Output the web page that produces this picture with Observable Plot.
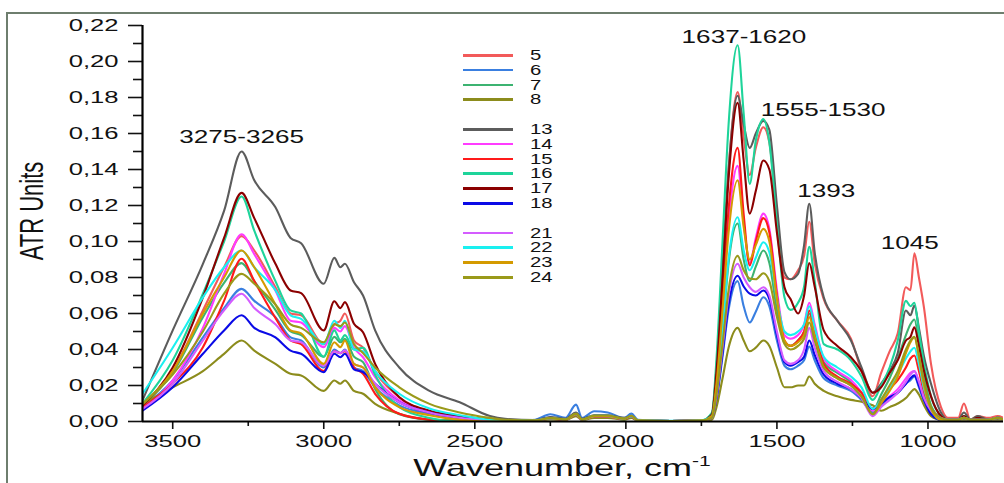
<!DOCTYPE html>
<html>
<head>
<meta charset="utf-8">
<script src="https://cdn.jsdelivr.net/npm/d3@7"></script>
<script src="https://cdn.jsdelivr.net/npm/@observablehq/plot@0.6"></script>
<style>
  html, body { margin: 0; padding: 0; background: #fff; }
  #wrap { position: relative; width: 1004px; height: 483px; overflow: hidden; font-family: "Liberation Sans", Arial, sans-serif; color: #111; }
  #frame { position: absolute; left: 6px; top: 12px; width: 1010px; height: 490px; border-left: 2px solid #6e7e6e; border-top: 2px solid #6e7e6e; }
  #chart { position: absolute; left: 0; top: 0; }
  .ttl { position: absolute; white-space: nowrap; line-height: 1; }
  .leg-row { position: absolute; left: 463px; height: 0; }
  .leg-line { position: absolute; left: 0; top: -1px; width: 50px; height: 2.5px; }
  .leg-lab { position: absolute; left: 67px; top: -8px; font-size: 14px; line-height: 16px; transform: scaleX(1.45); transform-origin: 0 50%; white-space: nowrap; }
</style>
</head>
<body>
<div id="wrap">
  <div id="frame"></div>
  <div id="chart"></div>
  <div id="legend"></div>
  <div class="ttl" style="left:32px; top:211px; transform: scaleX(1.5) rotate(-90deg); transform-origin: 0 0;">
    <div style="transform: translate(-50%,-50%); font-size:22px;">ATR Units</div>
  </div>
  <div class="ttl" style="left:562px; top:468px; font-size:24px; transform: translate(-50%,-50%) scaleX(1.5);">Wavenumber, cm<span style="font-size:14px; position:relative; top:-10px;">-1</span></div>
</div>
<script>
// ---- data ----
const wn = [3600,3500,3400,3330,3272,3230,3160,3110,3075,3000,2965,2945,2930,2900,2870,2830,2750,2650,2550,2450,
  2400,2300,2250,2200,2165,2145,2105,2060,2005,1982,1960,1850,1750,
  1715,1700,1680,1660,1630,1610,1590,1570,1545,1525,
  1500,1475,1455,1430,1410,1393,1375,1345,1300,1255,
  1220,1183,1155,1127,1100,1073,1058,1045,1030,1013,
  990,957,934,900,881,860,835,800,769,750];

const s5 = [0.008,0.028,0.0617,0.0857,0.103,0.095,0.0746,0.060,0.059,0.043,0.054,0.056,0.060,0.045,0.041,0.028,0.0135,0.005,0.002,0.001,
  0,0.0005,0.002,0.001,0.0045,0.001,0.003,0.003,0.0015,0.003,0.0005,0.0003,0.0005,
  0.004,0.03,0.085,0.14,0.183,0.158,0.137,0.152,0.1635,0.155,
  0.115,0.08,0.079,0.084,0.092,0.111,0.088,0.068,0.056,0.046,
  0.028,0.014,0.027,0.039,0.049,0.0746,0.073,0.0935,0.08,0.063,
  0.032,0.008,0.002,0.002,0.010,0.001,0.003,0.002,0.003,0.002];
const s6 = [0.008,0.0228,0.0467,0.063,0.0737,0.067,0.058,0.0467,0.045,0.030,0.040,0.038,0.040,0.030,0.028,0.019,0.009,0.0043,0.002,0.001,
  0,0.001,0.004,0.002,0.0094,0.002,0.0057,0.005,0.002,0.0044,0.001,0.0003,0.0005,
  0.002,0.012,0.036,0.062,0.078,0.064,0.055,0.061,0.069,0.064,
  0.045,0.031,0.029,0.031,0.034,0.0417,0.034,0.024,0.02,0.017,
  0.012,0.005,0.009,0.013,0.016,0.021,0.023,0.025,0.019,0.011,
  0.004,0.001,0.001,0.001,0.002,0.001,0.001,0.001,0.002,0.001];
const s7 = [0.009,0.027,0.058,0.077,0.088,0.078,0.062,0.050,0.048,0.036,0.047,0.044,0.046,0.036,0.033,0.018,0.004,0.001,0.0005,0,
  0,0.0004,0.0015,0.001,0.0035,0.001,0.0025,0.0025,0.001,0.0025,0.0005,0.0003,0.0005,
  0.003,0.018,0.05,0.088,0.11,0.09,0.078,0.086,0.095,0.088,
  0.062,0.044,0.042,0.045,0.05,0.06,0.049,0.033,0.027,0.022,
  0.016,0.006,0.015,0.024,0.035,0.048,0.054,0.0567,0.044,0.026,
  0.009,0.002,0.001,0.001,0.002,0.001,0.001,0.001,0.002,0.001];
const s8 = [0.0098,0.019,0.028,0.0376,0.045,0.0394,0.032,0.0265,0.0256,0.017,0.0228,0.021,0.0228,0.017,0.0154,0.0098,0.0043,0.001,0.0005,0,
  0,0.0004,0.0012,0.0008,0.003,0.0008,0.002,0.002,0.001,0.002,0.0004,0.0002,0.0004,
  0.001,0.008,0.024,0.041,0.052,0.045,0.039,0.041,0.045,0.042,
  0.03,0.019,0.019,0.02,0.02,0.025,0.021,0.017,0.014,0.012,
  0.011,0.009,0.006,0.008,0.01,0.013,0.016,0.018,0.015,0.009,
  0.003,0.001,0.001,0.001,0.001,0.001,0.001,0.001,0.001,0.001];
const s13 = [0.0117,0.0506,0.0876,0.117,0.150,0.134,0.119,0.102,0.099,0.0765,0.0909,0.0857,0.0876,0.0774,0.070,0.0506,0.030,0.017,0.0107,0.003,
  0.0015,0.0008,0.0025,0.0015,0.005,0.0015,0.0035,0.0035,0.002,0.003,0.0005,0.0003,0.0005,
  0.004,0.03,0.085,0.14,0.181,0.165,0.152,0.16,0.167,0.162,
  0.12,0.083,0.079,0.082,0.098,0.121,0.094,0.069,0.056,0.045,
  0.03,0.016,0.021,0.028,0.038,0.0617,0.059,0.0644,0.052,0.036,
  0.021,0.005,0.001,0.001,0.005,0.001,0.003,0.001,0.002,0.001];
const s14 = [0.007,0.0228,0.052,0.082,0.104,0.093,0.0728,0.056,0.055,0.0413,0.052,0.050,0.053,0.041,0.0357,0.0246,0.0117,0.005,0.002,0.0005,
  0,0.0005,0.0018,0.001,0.004,0.001,0.003,0.0028,0.0015,0.0028,0.0005,0.0003,0.0005,
  0.003,0.022,0.065,0.11,0.142,0.11,0.088,0.102,0.1155,0.107,
  0.073,0.048,0.046,0.048,0.054,0.066,0.054,0.035,0.028,0.023,
  0.016,0.006,0.01,0.014,0.018,0.024,0.027,0.028,0.022,0.014,
  0.007,0.002,0.001,0.001,0.002,0.001,0.001,0.001,0.002,0.001];
const s15 = [0.008,0.021,0.0413,0.067,0.0904,0.078,0.0576,0.045,0.043,0.028,0.039,0.038,0.039,0.030,0.0265,0.0154,0.0043,0.001,0,0,
  0,0.0004,0.0016,0.001,0.0038,0.001,0.0028,0.0028,0.0014,0.0027,0.0005,0.0003,0.0005,
  0.003,0.024,0.07,0.118,0.152,0.115,0.0867,0.1,0.113,0.105,
  0.07,0.045,0.042,0.045,0.05,0.0617,0.05,0.032,0.025,0.021,
  0.016,0.007,0.012,0.018,0.023,0.03,0.035,0.0367,0.028,0.016,
  0.006,0.001,0.001,0.001,0.002,0.001,0.001,0.001,0.002,0.001];
const s16 = [0.010,0.034,0.071,0.100,0.125,0.106,0.078,0.0617,0.060,0.036,0.0506,0.045,0.048,0.040,0.041,0.026,0.008,0.002,0,0,
  0,0.0004,0.0017,0.001,0.0042,0.001,0.003,0.003,0.0015,0.003,0.0005,0.0003,0.0006,
  0.005,0.035,0.1,0.165,0.209,0.171,0.132,0.156,0.168,0.155,
  0.11,0.069,0.062,0.066,0.075,0.097,0.078,0.043,0.04,0.034,
  0.025,0.012,0.02,0.03,0.045,0.067,0.064,0.066,0.05,0.032,
  0.014,0.003,0.001,0.001,0.003,0.001,0.002,0.001,0.002,0.001];
const s17 = [0.009,0.030,0.069,0.102,0.127,0.113,0.0876,0.0728,0.0713,0.0506,0.0668,0.063,0.0663,0.0543,0.0496,0.032,0.0135,0.006,0.003,0.001,
  0,0.0005,0.0018,0.001,0.004,0.0011,0.003,0.003,0.0016,0.0029,0.0005,0.0003,0.0005,
  0.004,0.028,0.08,0.135,0.177,0.145,0.1155,0.128,0.145,0.14,
  0.105,0.0746,0.068,0.06,0.07,0.088,0.075,0.0506,0.042,0.0357,
  0.028,0.016,0.019,0.027,0.034,0.045,0.047,0.0524,0.042,0.028,
  0.014,0.003,0.001,0.001,0.003,0.001,0.002,0.001,0.002,0.001];
const s18 = [0.006,0.019,0.0376,0.0506,0.059,0.052,0.0467,0.0394,0.0376,0.0274,0.0376,0.0357,0.0376,0.029,0.0274,0.021,0.0107,0.005,0.002,0.0005,
  0,0.0005,0.002,0.0012,0.0045,0.0012,0.0032,0.0032,0.0016,0.003,0.0006,0.0003,0.0005,
  0.002,0.013,0.038,0.065,0.081,0.075,0.071,0.07,0.0728,0.068,
  0.048,0.033,0.031,0.033,0.036,0.045,0.037,0.026,0.021,0.018,
  0.013,0.007,0.01,0.0135,0.016,0.021,0.024,0.0256,0.02,0.012,
  0.004,0.001,0.001,0.001,0.002,0.001,0.001,0.001,0.002,0.001];
const s21 = [0.007,0.021,0.045,0.0617,0.071,0.063,0.054,0.045,0.044,0.031,0.039,0.038,0.0395,0.032,0.030,0.021,0.0107,0.005,0.002,0.0005,
  0,0.0005,0.0018,0.001,0.004,0.001,0.003,0.003,0.0015,0.003,0.0005,0.0003,0.0005,
  0.002,0.014,0.041,0.07,0.0876,0.08,0.0746,0.072,0.0746,0.07,
  0.05,0.034,0.032,0.034,0.04,0.052,0.041,0.028,0.022,0.018,
  0.013,0.003,0.008,0.012,0.016,0.022,0.026,0.028,0.022,0.013,
  0.006,0.002,0.001,0.001,0.002,0.001,0.001,0.001,0.002,0.001];
const s22 = [0.0154,0.041,0.069,0.0857,0.095,0.0857,0.073,0.059,0.057,0.043,0.056,0.052,0.056,0.040,0.039,0.028,0.0154,0.0072,0.0035,0.001,
  0.0005,0.0006,0.0019,0.0011,0.0042,0.0011,0.0031,0.0031,0.0015,0.003,0.0006,0.0004,0.0007,
  0.003,0.018,0.052,0.09,0.1135,0.095,0.084,0.091,0.0996,0.094,
  0.068,0.05,0.048,0.05,0.054,0.064,0.052,0.036,0.03,0.025,
  0.019,0.007,0.012,0.018,0.026,0.035,0.039,0.041,0.032,0.018,
  0.007,0.001,0.001,0.001,0.002,0.001,0.001,0.001,0.002,0.001];
const s23 = [0.0098,0.028,0.060,0.080,0.095,0.0857,0.065,0.0506,0.049,0.032,0.044,0.0413,0.045,0.032,0.030,0.019,0.008,0.0035,0.001,0,
  0,0.0005,0.0018,0.001,0.0042,0.001,0.003,0.003,0.0015,0.0031,0.0005,0.0003,0.0005,
  0.003,0.021,0.062,0.105,0.134,0.108,0.09,0.098,0.107,0.1,
  0.068,0.045,0.042,0.044,0.048,0.058,0.047,0.03,0.024,0.02,
  0.014,0.004,0.01,0.017,0.025,0.038,0.044,0.0468,0.036,0.02,
  0.007,0.001,0.001,0.001,0.002,0.001,0.001,0.001,0.002,0.001];
const s24 = [0.0098,0.026,0.050,0.071,0.082,0.0765,0.065,0.054,0.052,0.044,0.054,0.053,0.055,0.043,0.038,0.030,0.019,0.0098,0.005,0.002,
  0.001,0.0006,0.002,0.0012,0.0045,0.0012,0.0033,0.0033,0.0016,0.0032,0.0006,0.0003,0.0005,
  0.002,0.015,0.043,0.073,0.092,0.084,0.0794,0.079,0.0824,0.078,
  0.058,0.043,0.04,0.042,0.046,0.055,0.045,0.03,0.024,0.02,
  0.014,0.004,0.012,0.02,0.028,0.04,0.045,0.047,0.037,0.022,
  0.008,0.002,0.001,0.001,0.002,0.001,0.001,0.001,0.002,0.001];

const seriesNames = ["5","6","7","8","13","14","15","16","17","18","21","22","23","24"];
const seriesValues = [s5,s6,s7,s8,s13,s14,s15,s16,s17,s18,s21,s22,s23,s24];
const seriesColors = ["#f25a5a","#3a7fe0","#3cb371","#8c8c1c","#5c5c5c","#ff3cff","#ff1a1a","#1ed49a","#8b0000","#0a0ae6","#d45cff","#1af0f0","#d49a00","#9a9a1a"];
// legend groups (blank separators)
const legendGroups = [["5","6","7","8"],["13","14","15","16","17","18"],["21","22","23","24"]];

const yMajor = [0,0.02,0.04,0.06,0.08,0.10,0.12,0.14,0.16,0.18,0.20,0.22];
const yMinor = [0.01,0.03,0.05,0.07,0.09,0.11,0.13,0.15,0.17,0.19,0.21];
const xMajor = [3500,3000,2500,2000,1500,1000];
const xMinor = [3250,2750,2250,1750,1250];

const peakLabels = ["3275-3265","1637-1620","1555-1530","1393","1045"];
const peakX = [3272,1609,1347,1337,1060];
const peakY = [0.158,0.2133,0.1728,0.1278,0.0989];

// ---- build ----
const colorOf = Object.fromEntries(seriesNames.map((n,i)=>[n, seriesColors[i]]));
const lineMarks = seriesNames.map((n,i) => {
  const rows = wn.map((w,j)=>({w, v: seriesValues[i][j]}));
  return Plot.line(rows, {x:"w", y:"v", stroke: seriesColors[i], strokeWidth: 2.1, curve: "monotone-x", clip: true});
});
const peaks = peakLabels.map((t,i)=>({t, x: peakX[i], y: peakY[i]}));

const fmt = d => d.toFixed(2).replace(".", ",");

const svg = Plot.plot({
  width: 1004, height: 483,
  marginLeft: 142, marginRight: 1, marginTop: 25, marginBottom: 62,
  x: {domain: [3600, 750]},
  y: {domain: [0, 0.22]},
  style: {fontFamily: "'Liberation Sans', Arial, sans-serif", background: "transparent", color: "#111"},
  marks: [
    ...lineMarks,
    Plot.axisY(yMajor, {tickSize: 14, tickPadding: 10, tickFormat: fmt, fontSize: 16, label: null, strokeWidth: 1.6}),
    Plot.axisY(yMinor, {tickSize: 9, tickFormat: () => "", label: null, strokeWidth: 1.6}),
    Plot.axisX(xMajor, {tickSize: 8, tickPadding: 6, tickFormat: d => String(d), fontSize: 16, label: null, strokeWidth: 1.6}),
    Plot.axisX(xMinor, {tickSize: 5, tickFormat: () => "", label: null, strokeWidth: 1.6}),
    Plot.ruleX([3600], {stroke: "#000", strokeWidth: 2.2}),
    Plot.ruleY([0], {stroke: "#000", strokeWidth: 2.2}),
    Plot.text(peaks, {x: "x", y: "y", text: "t", fontSize: 18, fill: "#111"})
  ]
});
document.getElementById("chart").appendChild(svg);

// stretch text horizontally like the reference (the original figure is horizontally stretched)
const tickTexts = new Set([...yMajor.map(fmt), ...xMajor.map(String)]);
const peakSet = new Set(peakLabels);
function stretch(t, s) {
  const tr = t.getAttribute("transform");
  if (tr && tr.indexOf("translate") >= 0) {
    t.setAttribute("transform", tr + ` scale(${s},1)`);
  } else {
    const x = +(t.getAttribute("x") || 0), y = +(t.getAttribute("y") || 0);
    t.setAttribute("transform", `translate(${x},${y}) scale(${s},1) translate(${-x},${-y})` + (tr ? " " + tr : ""));
  }
}
svg.querySelectorAll("text").forEach(t => {
  const s = t.textContent.trim();
  if (peakSet.has(s)) stretch(t, 1.45);
  else if (tickTexts.has(s)) stretch(t, 1.6);
});

// legend
const legend = document.getElementById("legend");
let row = 0;
const rowStep = 14.8, rowTop = 55;
legendGroups.forEach((g) => {
  g.forEach(n => {
    const r = document.createElement("div");
    r.className = "leg-row";
    r.style.top = (rowTop + row * rowStep) + "px";
    const l = document.createElement("div");
    l.className = "leg-line";
    l.style.background = colorOf[n];
    const t = document.createElement("div");
    t.className = "leg-lab";
    t.textContent = n;
    r.appendChild(l); r.appendChild(t);
    legend.appendChild(r);
    row++;
  });
  row++;
});
</script>
</body>
</html>
